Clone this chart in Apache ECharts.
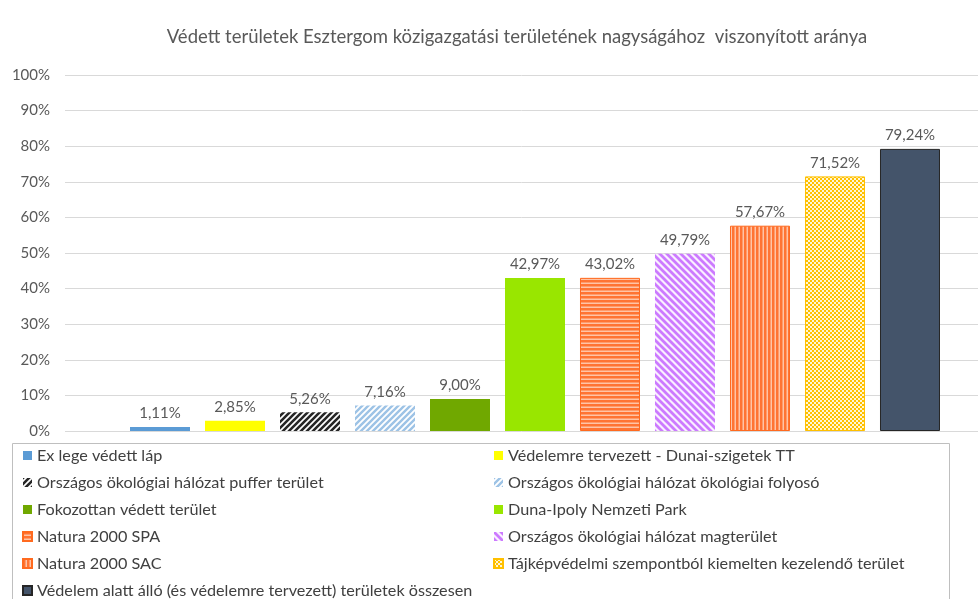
<!DOCTYPE html>
<html>
<head>
<meta charset="utf-8">
<script src="https://cdn.jsdelivr.net/npm/echarts@6/dist/echarts.min.js"></script>
<style>
  html, body { margin: 0; padding: 0; background: #fff; }
  #chart { width: 978px; height: 599px; }
</style>
</head>
<body>
<div id="chart"></div>
<script>
var names = [
    'Ex lege védett láp',
    'Védelemre tervezett - Dunai-szigetek TT',
    'Országos ökológiai hálózat puffer terület',
    'Országos ökológiai hálózat ökológiai folyosó',
    'Fokozottan védett terület',
    'Duna-Ipoly Nemzeti Park',
    'Natura 2000 SPA',
    'Országos ökológiai hálózat magterület',
    'Natura 2000 SAC',
    'Tájképvédelmi szempontból kiemelten kezelendő terület',
    'Védelem alatt álló (és védelemre tervezett) területek összesen'
];
var values = [1.11, 2.85, 5.26, 7.16, 9.00, 42.97, 43.02, 49.79, 57.67, 71.52, 79.24];
var yTicks = [0, 10, 20, 30, 40, 50, 60, 70, 80, 90, 100];

var textColor = '#595959';
var fontFamily = 'Lato';

function pattern(size, draw) {
    var c = document.createElement('canvas');
    c.width = size; c.height = size;
    var ctx = c.getContext('2d');
    draw(ctx, size);
    return { image: c, repeat: 'repeat' };
}
function diag(color, bg, size, width, down) {
    return pattern(size, function (ctx, s) {
        ctx.fillStyle = bg;
        ctx.fillRect(0, 0, s, s);
        ctx.strokeStyle = color;
        ctx.lineWidth = width;
        ctx.beginPath();
        for (var k = -1; k <= 1; k++) {
            if (down) {
                ctx.moveTo(k * s - s, -s); ctx.lineTo(k * s + 2 * s, 2 * s);
            } else {
                ctx.moveTo(k * s - s, 2 * s); ctx.lineTo(k * s + 2 * s, -s);
            }
        }
        ctx.stroke();
    });
}
function stripes(color, light, size, vertical) {
    return pattern(size, function (ctx, s) {
        ctx.fillStyle = color;
        ctx.fillRect(0, 0, s, s);
        ctx.fillStyle = light;
        if (vertical) ctx.fillRect(s - 1.5, 0, 1.5, s);
        else ctx.fillRect(0, s - 1.5, s, 1.5);
    });
}
var checker = pattern(4, function (ctx, s) {
    ctx.fillStyle = '#FFC000';
    ctx.fillRect(0, 0, s, s);
    ctx.fillStyle = '#FFF6D5';
    ctx.fillRect(0, 0, 2, 2);
    ctx.fillRect(2, 2, 2, 2);
});

var fills = [
    '#5B9BD5',
    '#FFFF00',
    diag('#262626', '#ffffff', 6, 2.6, false),
    diag('#9DC3E6', '#ffffff', 6, 2.4, false),
    '#70A800',
    '#99E600',
    stripes('#FF7433', '#FFC4A6', 4, false),
    diag('#CC7AFF', '#FAF0FF', 7, 2.8, true),
    stripes('#FF7433', '#FFC4A6', 4, true),
    checker,
    '#44546A'
];
var borders = [null, null, null, null, null, null, '#FF6A1F', null, '#FF6A1F', '#FFC000', '#262626'];

var series = names.map(function (name, i) {
    return {
        name: name,
        type: 'bar',
        barWidth: 60,
        barGap: '-100%',
        data: [[i + 1, values[i]]],
        itemStyle: {
            color: fills[i],
            borderColor: borders[i] || 'transparent',
            borderWidth: borders[i] ? 1 : 0
        },
        label: {
            show: true,
            position: 'top',
            distance: 6,
            color: textColor,
            fontSize: 15,
            fontFamily: fontFamily,
            formatter: function (p) {
                return p.value[1].toFixed(2).replace('.', ',') + '%';
            }
        },
        emphasis: { disabled: true },
        animation: false
    };
});

var legendText = { color: '#404040', fontSize: 16.2, lineHeight: 17, fontFamily: fontFamily };

function legendCol(left, top, data) {
    return {
        orient: 'vertical',
        left: left,
        top: top,
        itemWidth: 9,
        itemHeight: 9,
        itemGap: 10,
        icon: 'rect',
        selectedMode: false,
        textStyle: legendText,
        data: data
    };
}

var option = {
    backgroundColor: '#fff',
    title: {
        text: 'Védett területek Esztergom közigazgatási területének nagyságához  viszonyított aránya',
        left: 512,
        top: 23,
        textAlign: 'center',
        textStyle: { color: textColor, fontSize: 18.5, fontWeight: 'normal', fontFamily: fontFamily }
    },
    grid: { left: 65, right: 0, top: 75, bottom: 168, containLabel: false },
    xAxis: {
        type: 'value',
        min: -0.2667,
        max: 11.9067,
        show: false
    },
    yAxis: {
        type: 'value',
        min: yTicks[0],
        max: yTicks[yTicks.length - 1],
        interval: yTicks[1] - yTicks[0],
        axisLine: { show: false },
        axisTick: { show: false },
        axisLabel: { color: textColor, fontSize: 15, fontFamily: fontFamily, margin: 15, formatter: '{value}%' },
        splitLine: { lineStyle: { color: '#D9D9D9' } }
    },
    legend: [
        legendCol(17, 442, [names[0], names[2], names[4], names[6], names[8]]),
        legendCol(17, 577, [names[10]]),
        legendCol(488, 442, [names[1], names[3], names[5], names[7], names[9]])
    ],
    graphic: [{
        type: 'rect',
        shape: { x: 12.5, y: 443.5, width: 937, height: 170 },
        style: { fill: 'none', stroke: '#BFBFBF', lineWidth: 1 },
        silent: true
    }],
    series: series
};

var myChart = echarts.init(document.getElementById('chart'));
myChart.setOption(option);
</script>
</body>
</html>
